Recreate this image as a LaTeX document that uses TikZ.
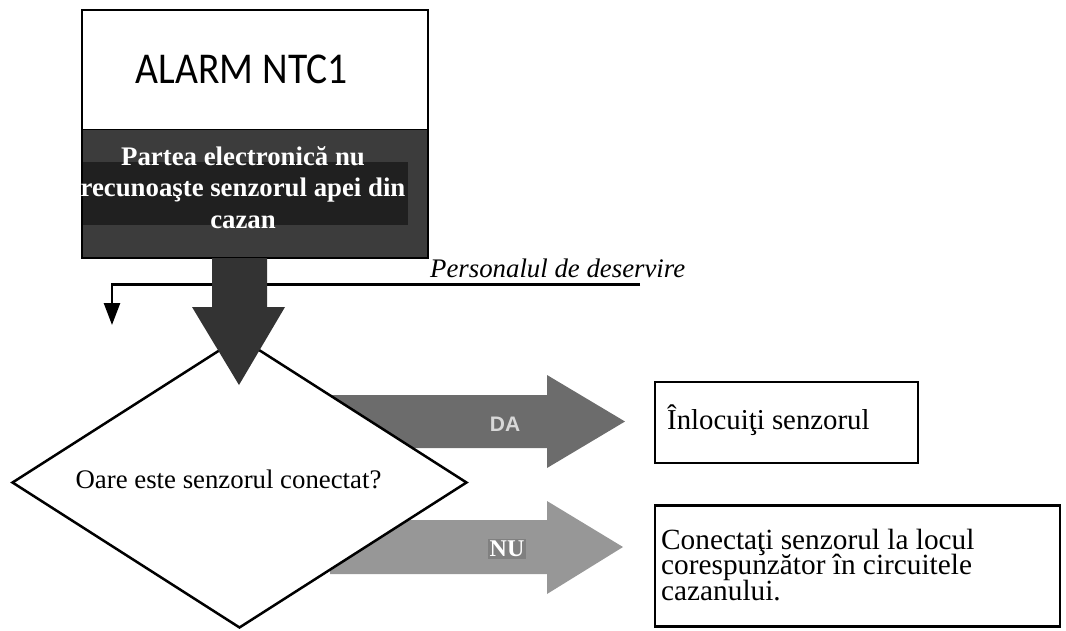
\documentclass[tikz,border=0pt]{standalone}
\usepackage{fontspec}
\setmainfont{Liberation Serif}
\newfontfamily\alarmfont{Carlito}
\newfontfamily\labelsans{Liberation Sans}
\usetikzlibrary{shapes.geometric,arrows.meta}
\definecolor{darkband}{HTML}{3C3C3C}
\definecolor{darkpanel}{HTML}{202020}
\definecolor{bigarrow}{HTML}{333333}
\definecolor{daarrow}{HTML}{6C6C6C}
\definecolor{nuarrow}{HTML}{979797}
\definecolor{nulabel}{HTML}{808080}
\definecolor{dalabel}{HTML}{D8D8D8}
\newcommand{\tightlines}{\lineskiplimit=-100pt\relax}
\begin{document}
\begin{tikzpicture}[x=1pt,y=-1pt,
  boxline/.style={draw=black,line width=2.5pt}]
\useasboundingbox (0,0) rectangle (1066,630);

% grey decision arrows (behind the diamond)
\fill[daarrow] (330,395) -- (547,395) -- (547,375) -- (625,421.5) -- (547,468) -- (547,448) -- (330,448) -- cycle;
\fill[nuarrow] (330,520) -- (547,520) -- (547,501) -- (623,547) -- (547,594) -- (547,574) -- (330,574) -- cycle;
\node[font=\labelsans\bfseries\fontsize{21}{21}\selectfont,text=dalabel] (da) at (505,424) {DA};
\node[fill=nulabel,inner sep=2pt,text=white,font=\bfseries\fontsize{24}{24}\selectfont] (nu) at (507,549) {NU};

% decision diamond
\node[diamond,aspect=1.56,minimum width=455pt,minimum height=291pt,inner sep=0pt,
      draw=black,line width=2.5pt,fill=white] (q) at (239.5,482.5) {};
\node[font=\fontsize{26.8}{30}\selectfont,anchor=base,inner sep=0pt] (qtext) at (228.5,488) {Oare este senzorul conectat?};

% result boxes
\node[boxline,minimum width=263pt,minimum height=81pt,inner sep=0pt] (repl) at (786.5,422.5) {};
\node[font=\fontsize{28.8}{30}\selectfont,anchor=base west,inner sep=0pt] (repltext) at (667,429) {Înlocuiţi senzorul};
\node[boxline,minimum width=405pt,minimum height=121pt,inner sep=0pt] (conn) at (857.5,566) {};
\node[font=\fontsize{29.3}{25.5}\selectfont\tightlines,anchor=base west,inner sep=0pt,align=left] (conntext) at (661,600)
  {Conectaţi senzorul la locul\\corespunzător în circuitele\\cazanului.};

% service line
\coordinate (lineR) at (640,284.5);
\coordinate (lineL) at (112,284.5);
\coordinate (lineE) at (112,325);
\draw[line width=2.5pt,-{Triangle[length=22pt,width=16pt]}] (lineR) -- (lineL) -- (lineE);
\node[font=\itshape\fontsize{26.8}{30}\selectfont,anchor=base west,inner sep=0pt] (pers) at (430,277) {Personalul de deservire};

% alarm box
\node[draw=black,line width=2pt,fill=white,minimum width=346pt,minimum height=120pt,inner sep=0pt] (alarm) at (255,70) {};
\node[fill=darkband,minimum width=346pt,minimum height=128pt,inner sep=0pt] (cause) at (255,194) {};
\fill[darkpanel] (82,162) rectangle (408,225);
\draw[black,line width=2pt] (82,10) rectangle (428,258);
\node[font=\alarmfont\fontsize{44}{44}\selectfont] (alarmtext) at (242,69) {\scalebox{0.9}[1]{ALARM NTC1}};
\node[text=white,font=\bfseries\fontsize{26.8}{31.5}\selectfont\tightlines,align=center,anchor=base,inner sep=0pt] (causetext) at (243,228)
  {Partea electronică nu\\recunoaşte senzorul apei din\\cazan};

% big arrow from alarm box to decision
\fill[bigarrow] (212,258) -- (267,258) -- (267,307) -- (285,307) -- (239,385) -- (192,307) -- (212,307) -- cycle;
\end{tikzpicture}
\end{document}
